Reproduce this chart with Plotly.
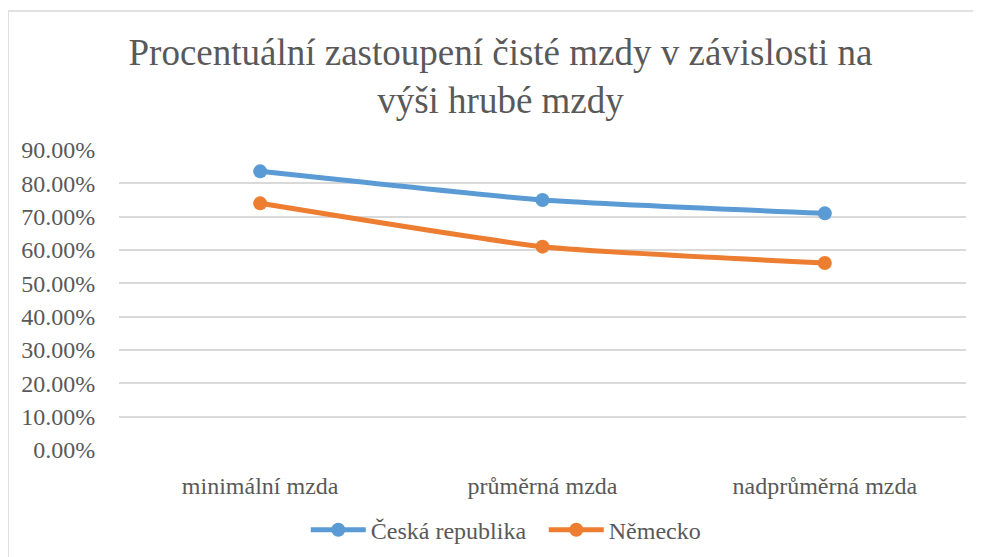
import plotly.graph_objects as go

# data
categories = ["minimální mzda", "průměrná mzda", "nadprůměrná mzda"]
cz_values = [0.836, 0.750, 0.710]
de_values = [0.740, 0.610, 0.561]
series_names = ["Česká republika", "Německo"]
y_ticks = [0.0, 0.1, 0.2, 0.3, 0.4, 0.5, 0.6, 0.7, 0.8, 0.9]

BLUE = "#5B9BD5"
ORANGE = "#ED7D31"
TEXT_COLOR = "#595959"
GRID_COLOR = "#D9D9D9"
FONT = "Liberation Serif"
TEXT_FONT = dict(family=FONT, size=24, color=TEXT_COLOR)

fig = go.Figure(
    data=[
        go.Scatter(
            x=categories,
            y=yi,
            mode="lines+markers",
            marker=dict(size=14, color=color),
            line=dict(width=5, color=color, shape="spline", smoothing=0.5),
            name=name,
        )
        for yi, name, color in zip(
            [cz_values, de_values], series_names, [BLUE, ORANGE]
        )
    ],
    layout=go.Layout(
        width=981,
        height=557,
        paper_bgcolor="white",
        plot_bgcolor="white",
        margin=dict(t=142, b=115, l=111, r=23),
        font=TEXT_FONT,
        title=dict(
            text="Procentuální zastoupení čisté mzdy v závislosti na<br>výši hrubé mzdy",
            font=dict(family=FONT, size=37, color=TEXT_COLOR),
            x=0.502,
            xanchor="center",
            y=0.897,
            yanchor="middle",
        ),
        xaxis={
            "type": "category",
            "range": [-0.5, 2.5],
            "showgrid": False,
            "zeroline": False,
            "showline": False,
            "ticks": "outside",
            "ticklen": 14,
            "tickcolor": "rgba(0,0,0,0)",
            "tickfont": TEXT_FONT,
        },
        yaxis={
            "range": [0, 0.9],
            "tickvals": y_ticks,
            "tickformat": ".2%",
            "gridcolor": GRID_COLOR,
            "gridwidth": 1.5,
            "zeroline": False,
            "showline": False,
            "ticks": "outside",
            "ticklen": 18,
            "tickcolor": "rgba(0,0,0,0)",
            "tickfont": TEXT_FONT,
        },
        legend=dict(
            orientation="h",
            x=0.2205,
            xanchor="left",
            y=-0.267,
            yanchor="middle",
            font=TEXT_FONT,
            itemwidth=55,
            entrywidth=168,
        ),
        shapes=[
            # chart frame: only the left and top edges are in view
            dict(
                type="path",
                xref="paper",
                yref="paper",
                path="M -0.131,-1 L -0.131,1.4633 L 1.5,1.4633",
                line=dict(color=GRID_COLOR, width=1.5),
                layer="below",
            )
        ],
    ),
)

fig.write_html("out.html")
